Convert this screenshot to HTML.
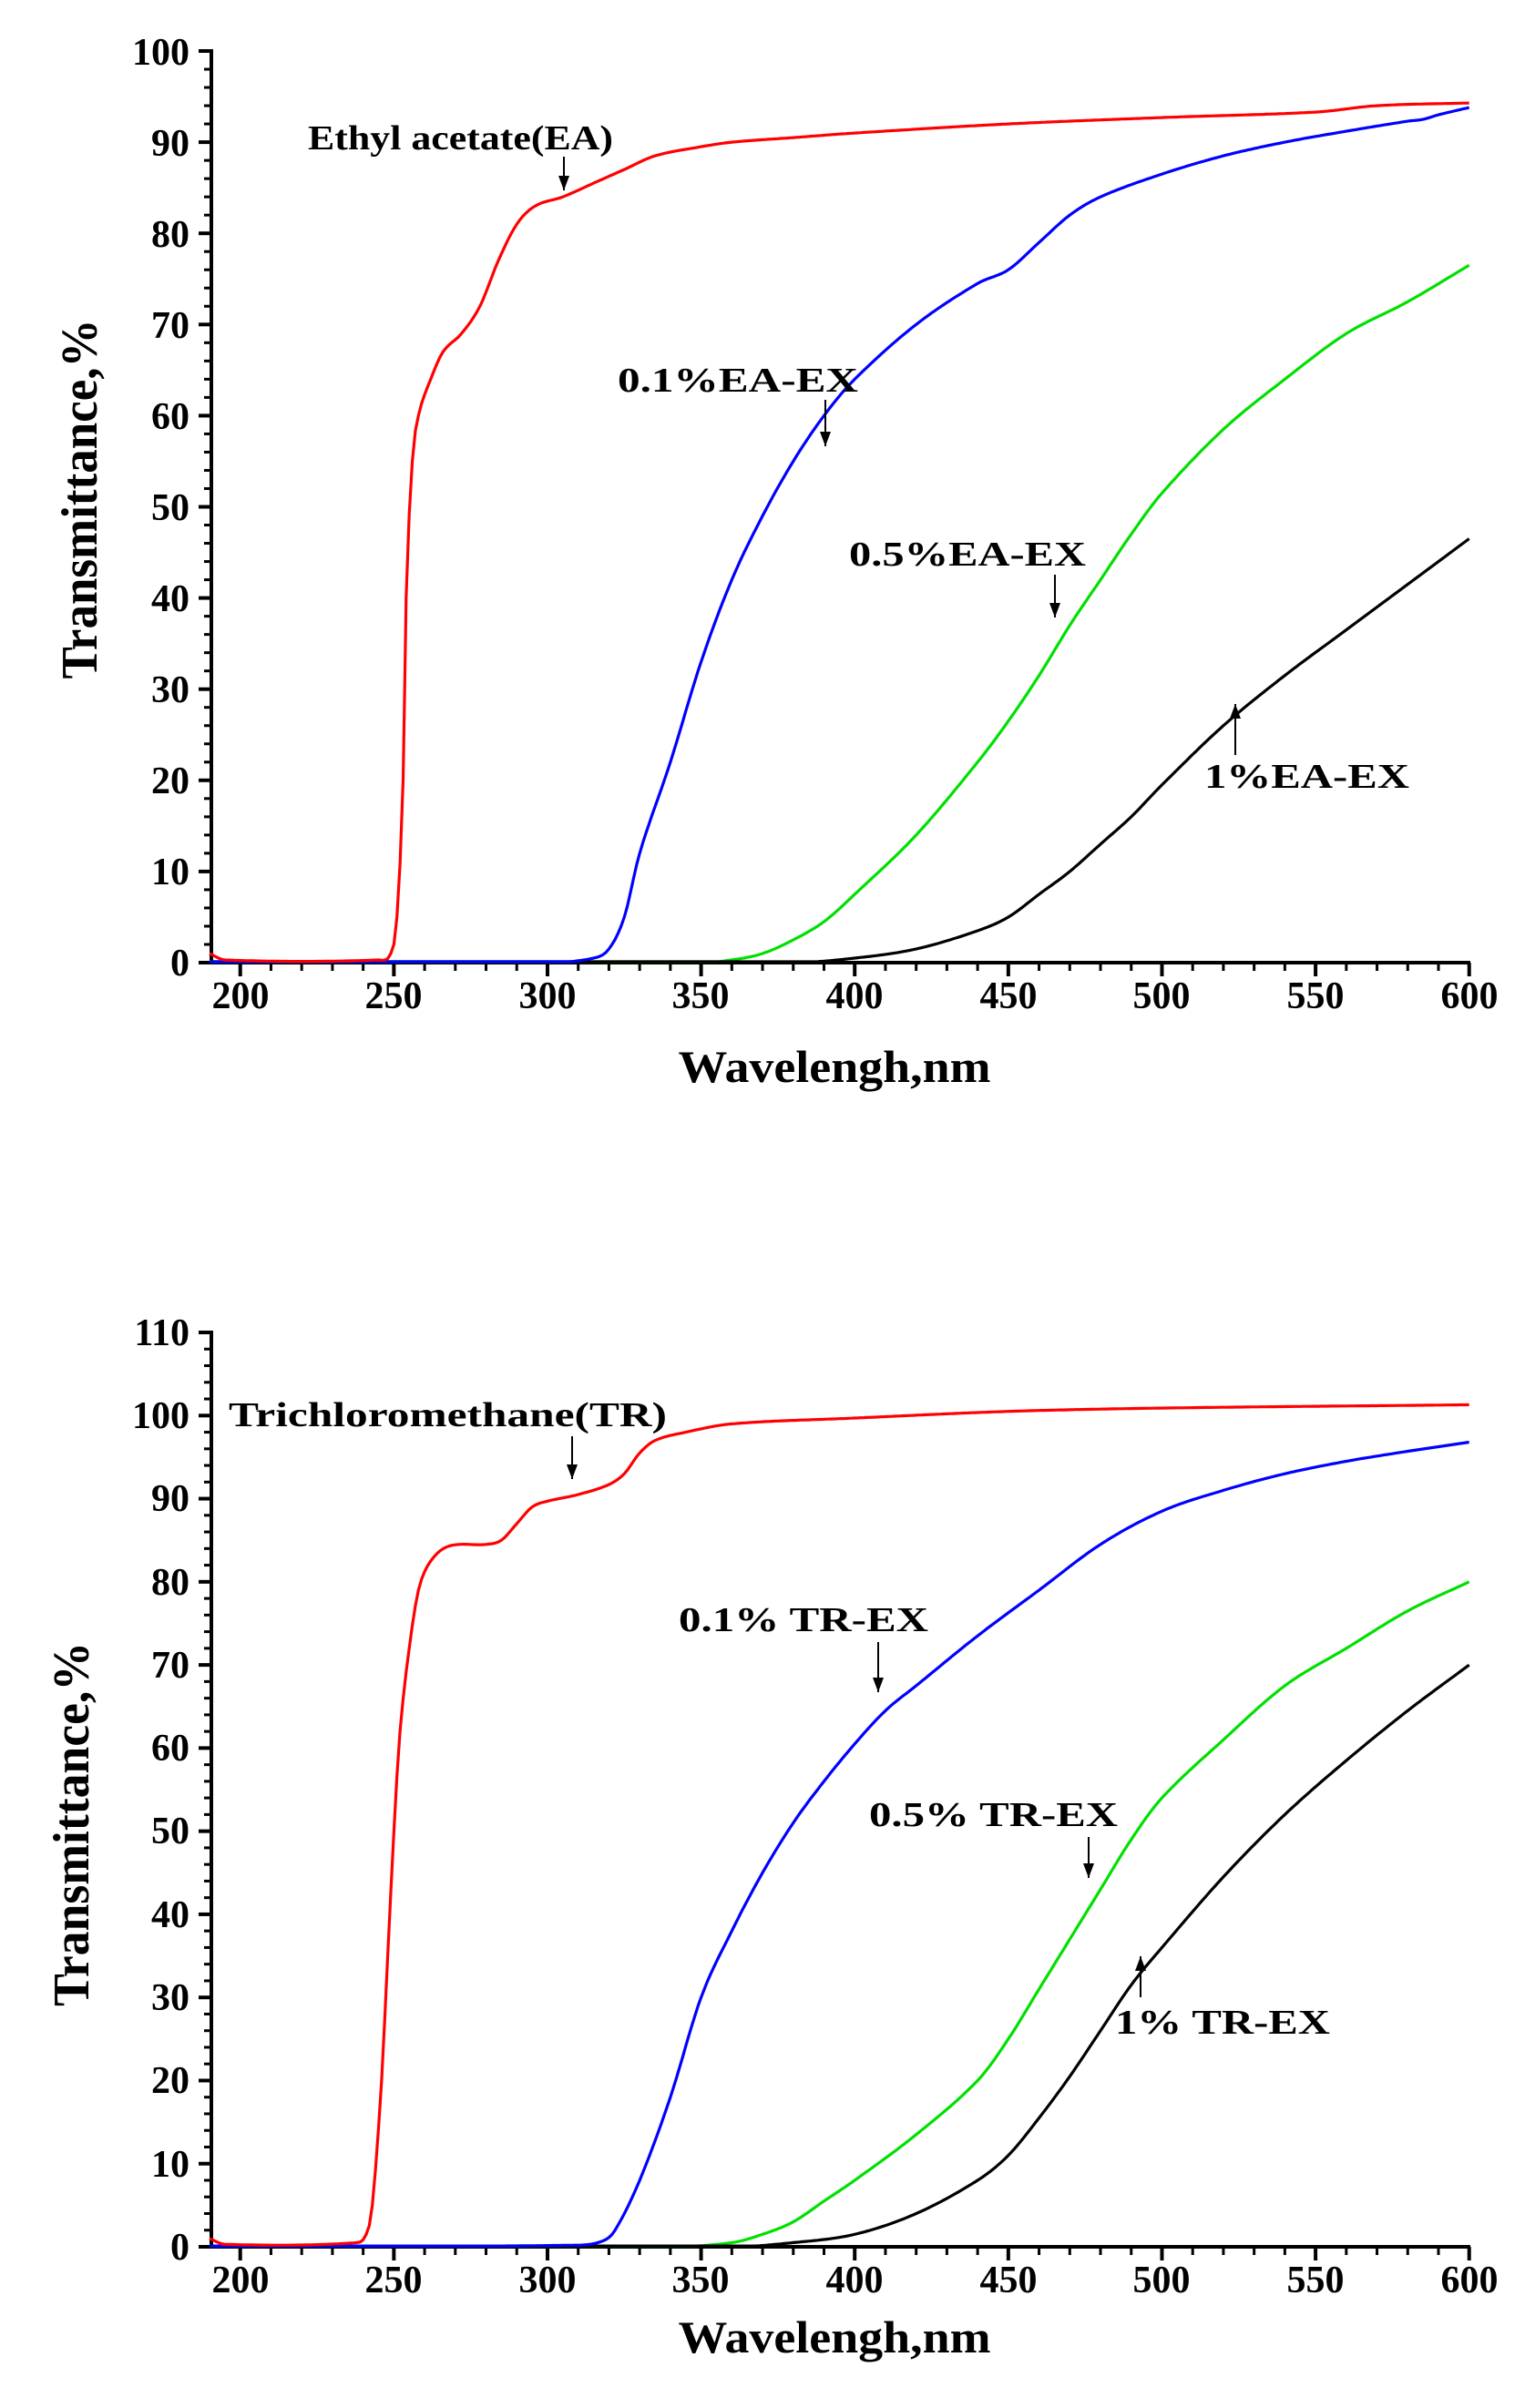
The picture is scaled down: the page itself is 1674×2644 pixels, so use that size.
<!DOCTYPE html>
<html><head><meta charset="utf-8"><style>
html,body{margin:0;padding:0;background:#fff;}
svg{display:block;}
text{font-family:"Liberation Serif",serif;font-weight:bold;fill:#000;}
</style></head><body>
<svg id="s" width="1674" height="2644" viewBox="0 0 1674 2644" xmlns="http://www.w3.org/2000/svg">
<g id="g"></g>
<!-- top chart texts -->
<g font-size="42" text-anchor="middle">
<text x="264" y="1107">200</text><text x="432" y="1107">250</text><text x="601" y="1107">300</text><text x="769" y="1107">350</text><text x="938" y="1107">400</text><text x="1107" y="1107">450</text><text x="1275" y="1107">500</text><text x="1444" y="1107">550</text><text x="1613" y="1107">600</text>
</g>
<g font-size="42" text-anchor="end">
<text x="208" y="1071">0</text><text x="208" y="971">10</text><text x="208" y="871">20</text><text x="208" y="771">30</text><text x="208" y="671">40</text><text x="208" y="571">50</text><text x="208" y="471">60</text><text x="208" y="371">70</text><text x="208" y="271">80</text><text x="208" y="171">90</text><text x="208" y="71">100</text>
</g>
<text x="916" y="1188" font-size="50" text-anchor="middle" textLength="343" lengthAdjust="spacingAndGlyphs">Wavelengh,nm</text>
<text transform="translate(106,548) rotate(-90)" font-size="56" text-anchor="middle" textLength="395" lengthAdjust="spacingAndGlyphs">Transmittance,%</text>
<g font-size="38">
<text x="338" y="164" textLength="335" lengthAdjust="spacingAndGlyphs">Ethyl acetate(EA)</text>
<text x="678" y="430" textLength="264" lengthAdjust="spacingAndGlyphs">0.1%EA-EX</text>
<text x="932" y="621" textLength="260" lengthAdjust="spacingAndGlyphs">0.5%EA-EX</text>
<text x="1322" y="865" textLength="225" lengthAdjust="spacingAndGlyphs">1%EA-EX</text>
</g>
<!-- bottom chart texts -->
<g font-size="42" text-anchor="middle">
<text x="264" y="2517">200</text><text x="432" y="2517">250</text><text x="601" y="2517">300</text><text x="769" y="2517">350</text><text x="938" y="2517">400</text><text x="1107" y="2517">450</text><text x="1275" y="2517">500</text><text x="1444" y="2517">550</text><text x="1613" y="2517">600</text>
</g>
<g font-size="42" text-anchor="end" id="by"></g>
<text x="916" y="2583" font-size="50" text-anchor="middle" textLength="343" lengthAdjust="spacingAndGlyphs">Wavelengh,nm</text>
<text transform="translate(97,2003) rotate(-90)" font-size="56" text-anchor="middle" textLength="400" lengthAdjust="spacingAndGlyphs">Transmittance,%</text>
<g font-size="38">
<text x="251" y="1566" textLength="481" lengthAdjust="spacingAndGlyphs">Trichloromethane(TR)</text>
<text x="745" y="1791" textLength="274" lengthAdjust="spacingAndGlyphs">0.1% TR-EX</text>
<text x="954" y="2005" textLength="273" lengthAdjust="spacingAndGlyphs">0.5% TR-EX</text>
<text x="1224" y="2233" textLength="236" lengthAdjust="spacingAndGlyphs">1% TR-EX</text>
</g>
<g font-size="42" text-anchor="end">
<text x="208" y="2481">0</text><text x="208" y="2390">10</text><text x="208" y="2298">20</text><text x="208" y="2207">30</text><text x="208" y="2116">40</text><text x="208" y="2024">50</text><text x="208" y="1933">60</text><text x="208" y="1842">70</text><text x="208" y="1751">80</text><text x="208" y="1659">90</text><text x="208" y="1568">100</text><text x="208" y="1477">110</text>
</g>
</svg>
<script>
(function(){
var NS="http://www.w3.org/2000/svg",g=document.getElementById("g");
function el(t,a){var e=document.createElementNS(NS,t);for(var k in a)e.setAttribute(k,a[k]);g.appendChild(e);return e;}
function X(w){return 230+3.3725*(w-190);}
function interp(d){var out=[];for(var i=0;i<d.length-1;i++){var p0=d[Math.max(0,i-1)],p1=d[i],p2=d[i+1],p3=d[Math.min(d.length-1,i+2)];
 var n=Math.max(2,Math.round((p2[0]-p1[0])));for(var j=0;j<n;j++){var t=j/n,t2=t*t,t3=t2*t;
 var x=p1[0]+(p2[0]-p1[0])*t;
 var m1=(p2[1]-p0[1])/((p2[0]-p0[0])||1)*(p2[0]-p1[0]),m2=(p3[1]-p1[1])/((p3[0]-p1[0])||1)*(p2[0]-p1[0]);
 var y=(2*t3-3*t2+1)*p1[1]+(t3-2*t2+t)*m1+(-2*t3+3*t2)*p2[1]+(t3-t2)*m2;out.push([x,y]);}}
 out.push(d[d.length-1]);return out;}
function curve(d,Y,col){var pts=interp(d).map(function(p){return X(p[0]).toFixed(1)+","+Y(Math.max(0.1,p[1])).toFixed(1);});
 el("polyline",{points:pts.join(" "),fill:"none",stroke:col,"stroke-width":3.2,"stroke-linejoin":"round"});}
function axes(y0,ytop,unit,maxv){
 el("line",{x1:232,y1:ytop-2,x2:232,y2:y0+2,stroke:"#000","stroke-width":4});
 el("line",{x1:230,y1:y0,x2:1614,y2:y0,stroke:"#000","stroke-width":4});
 for(var v=0;v<=maxv;v+=2){var y=y0-unit*v,maj=(v%10==0);el("line",{x1:232-(maj?14:8),y1:y,x2:232,y2:y,stroke:"#000","stroke-width":maj?4:3});}
 for(var w=200;w<=600;w+=10){var x=X(w),maj=(w%50==0);el("line",{x1:x,y1:y0,x2:x,y2:y0+(maj?15:9),stroke:"#000","stroke-width":maj?4:3});}
}
function arrow(x,y1,y2){el("line",{x1:x,y1:y1,x2:x,y2:y2,stroke:"#000","stroke-width":2});
 var d=y2>y1?1:-1;el("polygon",{points:(x-6)+","+(y2-d*16)+" "+(x+6)+","+(y2-d*16)+" "+x+","+y2,fill:"#000"});}
var YT=function(v){return 1057-10.01*v;};
var YB=function(v){return 2467-9.127*v;};
axes(1057,56,10.01,100);
axes(2467,1463,9.127,110);
// top curves
curve([[190,0],[350,0],[360,0.3],[370,1],[380,2.5],[390,4.5],[400,7.5],[420,14],[440,22],[450,26.5],[460,31.5],[470,37],[480,42],[490,47],[500,51.5],[520,58.5],[540,64],[560,69],[580,72.5],[600,76.5]],YT,"#00e000");
curve([[190,0],[380,0],[400,0.5],[420,1.5],[440,3.5],[450,5],[460,7.5],[470,10],[480,13],[490,16],[500,19.5],[520,26],[540,31.5],[560,36.5],[580,41.5],[600,46.5]],YT,"#000");
curve([[190,0],[300,0],[315,0.5],[320,1.5],[325,5],[330,12],[340,22],[350,33],[360,42],[370,49],[380,55],[390,60],[400,64],[420,70],[440,74.5],[450,76],[460,79],[470,82],[480,84],[500,86.5],[520,88.5],[540,90],[560,91.2],[580,92.3],[585,92.5],[590,93],[600,93.8]],YT,"#0000ff");
curve([[190,1],[195,0.3],[245,0.3],[249,1],[251,5],[253,20],[254,40],[256,55],[258,60],[262,64],[266,67],[272,69],[278,72],[284,77],[290,81],[296,83],[305,84],[315,85.5],[325,87],[335,88.5],[350,89.5],[360,90],[380,90.5],[400,91],[450,92],[500,92.7],[550,93.3],[570,94],[600,94.3]],YT,"#ff0000");
// bottom curves
curve([[190,0],[340,0],[360,0.5],[370,1.5],[380,3],[390,5.5],[400,8],[420,13.5],[440,20],[450,25],[460,31],[470,37],[480,43],[490,49],[500,54],[520,61],[540,67.5],[560,72],[580,76.5],[600,80]],YB,"#00e000");
curve([[190,0],[360,0],[380,0.5],[400,1.5],[420,4],[440,8],[450,11],[460,15.5],[470,20.5],[480,26],[490,31.5],[500,36],[520,44.5],[540,52],[560,58.5],[580,64.5],[600,70]],YB,"#000");
curve([[190,0],[310,0.2],[318,0.7],[322,2],[330,8],[340,18],[350,30],[360,38],[370,45],[380,51],[390,56],[400,60.5],[410,64.5],[420,67.5],[440,73.5],[460,79],[480,84.5],[500,88.5],[520,91],[540,93],[560,94.5],[580,95.7],[600,96.8]],YB,"#0000ff");
curve([[190,1],[195,0.3],[238,0.5],[241,1.5],[243,5],[246,20],[248,35],[250,50],[252,62],[255,72],[258,79],[262,82.5],[268,84.3],[280,84.5],[285,85],[290,87],[295,89],[300,89.7],[310,90.5],[320,91.7],[325,93],[330,95.5],[335,97],[345,98],[360,99],[400,99.7],[450,100.5],[500,100.9],[600,101.3]],YB,"#ff0000");
// arrows
arrow(619,172,209);arrow(906,439,490);arrow(1158,631,678);arrow(1356,829,773);
arrow(628,1577,1624);arrow(964,1803,1858);arrow(1195,2017,2062);arrow(1252,2193,2148);
})();
</script>
</body></html>
